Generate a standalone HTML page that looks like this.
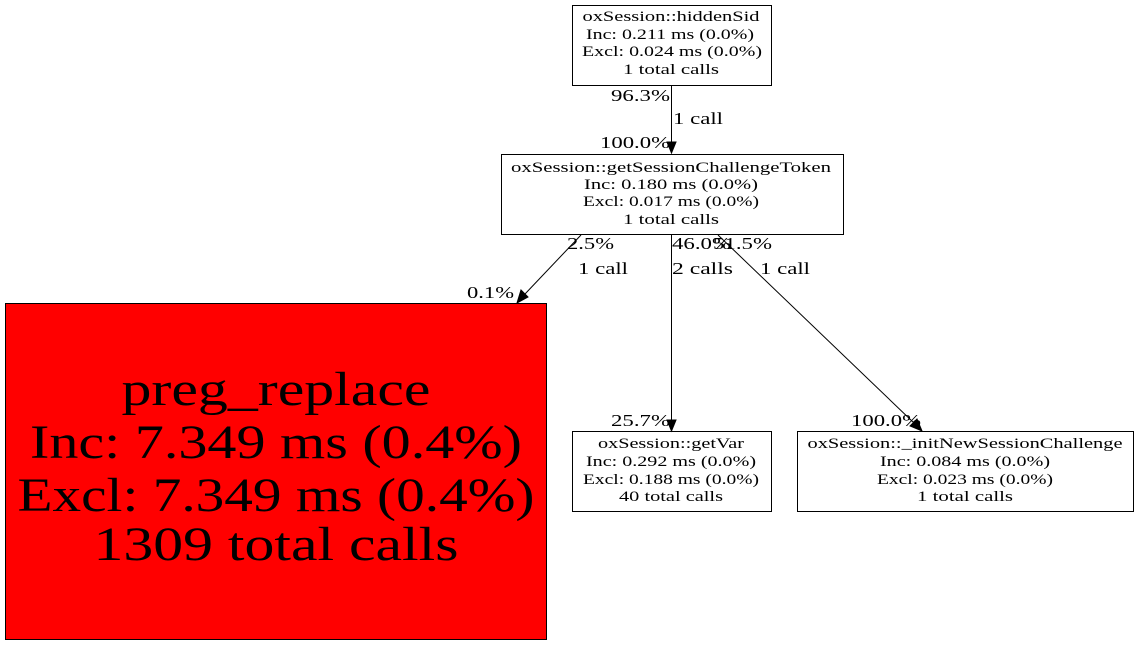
<!DOCTYPE html>
<html><head><meta charset="utf-8"><style>
html,body{margin:0;padding:0;background:#fff;}
svg{display:block;}
text{font-family:"Liberation Serif","DejaVu Serif",serif;fill:#000;}
.n{font-size:14.5px;text-anchor:middle;}
.e{font-size:17px;}
</style></head><body>
<svg width="1139" height="645" viewBox="0 0 1139 645" xmlns="http://www.w3.org/2000/svg">
<rect x="0" y="0" width="1139" height="645" fill="#fff"/>
<rect x="572.5" y="5.5" width="199" height="80" fill="#fff" stroke="#000"/>
<text class="n" x="671" y="21" textLength="177" lengthAdjust="spacingAndGlyphs">oxSession::hiddenSid</text>
<text class="n" x="670" y="39" textLength="168" lengthAdjust="spacingAndGlyphs">Inc: 0.211 ms (0.0%)</text>
<text class="n" x="672" y="56" textLength="180" lengthAdjust="spacingAndGlyphs">Excl: 0.024 ms (0.0%)</text>
<text class="n" x="671" y="74" textLength="96" lengthAdjust="spacingAndGlyphs">1 total calls</text>

<rect x="501.5" y="154.5" width="342" height="80" fill="#fff" stroke="#000"/>
<text class="n" x="671" y="172" textLength="320" lengthAdjust="spacingAndGlyphs">oxSession::getSessionChallengeToken</text>
<text class="n" x="671" y="189" textLength="174" lengthAdjust="spacingAndGlyphs">Inc: 0.180 ms (0.0%)</text>
<text class="n" x="671" y="206" textLength="176" lengthAdjust="spacingAndGlyphs">Excl: 0.017 ms (0.0%)</text>
<text class="n" x="671" y="224" textLength="96" lengthAdjust="spacingAndGlyphs">1 total calls</text>

<rect x="5.5" y="303.5" width="541" height="336" fill="#ff0000" stroke="#000"/>
<g style="font-size:48px;text-anchor:middle">
<text x="276" y="405" textLength="309" lengthAdjust="spacingAndGlyphs">preg_replace</text>
<text x="276" y="458" textLength="492" lengthAdjust="spacingAndGlyphs">Inc: 7.349 ms (0.4%)</text>
<text x="276" y="511" textLength="517" lengthAdjust="spacingAndGlyphs">Excl: 7.349 ms (0.4%)</text>
<text x="276" y="560" textLength="365" lengthAdjust="spacingAndGlyphs">1309 total calls</text>
</g>

<rect x="572.5" y="431.5" width="199" height="80" fill="#fff" stroke="#000"/>
<text class="n" x="671" y="448" textLength="146" lengthAdjust="spacingAndGlyphs">oxSession::getVar</text>
<text class="n" x="671" y="466" textLength="170" lengthAdjust="spacingAndGlyphs">Inc: 0.292 ms (0.0%)</text>
<text class="n" x="671" y="484" textLength="176" lengthAdjust="spacingAndGlyphs">Excl: 0.188 ms (0.0%)</text>
<text class="n" x="671" y="501" textLength="104" lengthAdjust="spacingAndGlyphs">40 total calls</text>

<rect x="797.5" y="431.5" width="336" height="80" fill="#fff" stroke="#000"/>
<text class="n" x="965" y="448" textLength="315" lengthAdjust="spacingAndGlyphs">oxSession::_initNewSessionChallenge</text>
<text class="n" x="965" y="466" textLength="170" lengthAdjust="spacingAndGlyphs">Inc: 0.084 ms (0.0%)</text>
<text class="n" x="965" y="484" textLength="176" lengthAdjust="spacingAndGlyphs">Excl: 0.023 ms (0.0%)</text>
<text class="n" x="965" y="501" textLength="96" lengthAdjust="spacingAndGlyphs">1 total calls</text>

<g stroke="#000" fill="none">
<line x1="671.5" y1="86" x2="671.5" y2="142"/>
<line x1="581" y1="235" x2="525" y2="294"/>
<line x1="671.5" y1="235" x2="671.5" y2="420"/>
<line x1="718" y1="235" x2="914" y2="423"/>
</g>
<g fill="#000" stroke="#000">
<polygon points="667,142 676,142 671.5,153"/>
<polygon points="521,290 528,297 517,303"/>
<polygon points="667,420 676,420 671.5,431"/>
<polygon points="910,426 917,419 922,431"/>
</g>
<text class="e" x="611" y="101" textLength="59" lengthAdjust="spacingAndGlyphs">96.3%</text>
<text class="e" x="673" y="124" textLength="50" lengthAdjust="spacingAndGlyphs">1 call</text>
<text class="e" x="600" y="148" textLength="70" lengthAdjust="spacingAndGlyphs">100.0%</text>
<text class="e" x="567" y="249" textLength="47" lengthAdjust="spacingAndGlyphs">2.5%</text>
<text class="e" x="578" y="274" textLength="50" lengthAdjust="spacingAndGlyphs">1 call</text>
<text class="e" x="467" y="298" textLength="47" lengthAdjust="spacingAndGlyphs">0.1%</text>
<text class="e" x="672" y="249" textLength="59" lengthAdjust="spacingAndGlyphs">46.0%</text>
<text class="e" x="713" y="249" textLength="59" lengthAdjust="spacingAndGlyphs">51.5%</text>
<text class="e" x="672" y="274" textLength="61" lengthAdjust="spacingAndGlyphs">2 calls</text>
<text class="e" x="760" y="274" textLength="50" lengthAdjust="spacingAndGlyphs">1 call</text>
<text class="e" x="611" y="426" textLength="59" lengthAdjust="spacingAndGlyphs">25.7%</text>
<text class="e" x="851" y="426" textLength="70" lengthAdjust="spacingAndGlyphs">100.0%</text>
</svg>
</body></html>
